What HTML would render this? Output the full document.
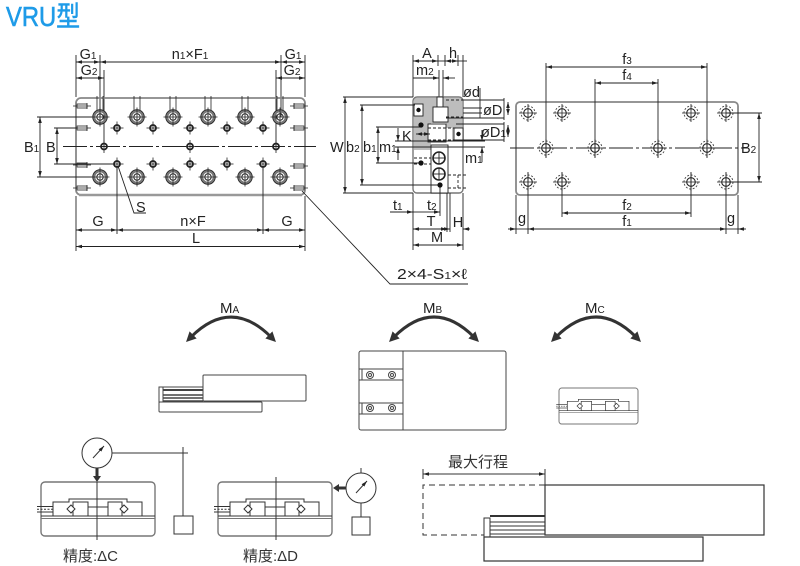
<!DOCTYPE html>
<html><head><meta charset="utf-8"><style>
html,body{margin:0;padding:0;background:#fff}
svg{display:block}
text{font-family:"Liberation Sans","Noto Sans CJK JP",sans-serif;fill:#222;stroke:none}
</style></head><body>
<svg width="800" height="566" viewBox="0 0 800 566" xmlns="http://www.w3.org/2000/svg">
<defs>
<marker id="a" viewBox="0 0 10 6" refX="10" refY="3" markerWidth="6" markerHeight="3.6" orient="auto-start-reverse" markerUnits="userSpaceOnUse"><path d="M0,0L10,3L0,6z" fill="#222"/></marker>
<marker id="b" viewBox="0 0 10 10" refX="3" refY="5" markerWidth="10" markerHeight="10" orient="auto-start-reverse" markerUnits="userSpaceOnUse"><path d="M0,0L10,5L0,10z" fill="#333"/></marker>
<g id="LH" fill="none"><circle r="6" stroke="#777" stroke-width="2.6"/><circle r="7.3" stroke="#222" stroke-width="0.8"/><circle r="3.2" stroke="#222" stroke-width="1"/><line x1="-9.5" y1="0" x2="9.5" y2="0" stroke="#222" stroke-width="0.8"/><line x1="0" y1="-9.5" x2="0" y2="9.5" stroke="#222" stroke-width="0.8"/></g>
<g id="SH" fill="none" stroke="#222"><circle r="3" stroke-width="1.8"/><line x1="-6.5" y1="0" x2="6.5" y2="0" stroke-width="0.8"/><line x1="0" y1="-6.5" x2="0" y2="6.5" stroke-width="0.8"/></g>
<g id="RH" fill="none"><circle r="7" stroke="#444" stroke-width="0.9" stroke-dasharray="2,1.6"/><circle r="4.3" stroke="#222" stroke-width="1.1"/><line x1="-9" y1="0" x2="9" y2="0" stroke="#222" stroke-width="0.8"/><line x1="0" y1="-9" x2="0" y2="9" stroke="#222" stroke-width="0.8"/></g>
<g id="TL" stroke="#222" stroke-width="0.8" fill="none"><rect x="1" y="-2" width="10" height="4"/><line x1="-3" y1="0" x2="15" y2="0"/><line x1="11" y1="-3" x2="11" y2="3"/></g>
<g id="TV" stroke="#222" stroke-width="0.8"><line x1="-3" y1="96" x2="-3" y2="110"/><line x1="3" y1="96" x2="3" y2="110"/></g>
<g id="BD" fill="none" stroke="#333" stroke-width="1">
<rect x="0" y="0" width="114" height="54" rx="4" stroke="#777" stroke-width="1.4"/>
<line x1="0" y1="34" x2="114" y2="34"/>
<line x1="0" y1="36.5" x2="114" y2="36.5" stroke="#777"/>
<path d="M12,34 V20 H28 V17 H86 V20 H101 V34"/>
<rect x="32" y="20" width="15" height="14"/>
<rect x="67" y="20" width="14" height="14"/>
<line x1="47" y1="25" x2="67" y2="25"/>
<path d="M30,23 L34,27 L30,31 L26,27 Z" fill="#fff"/>
<path d="M83,23 L87,27 L83,31 L79,27 Z" fill="#fff"/>
<line x1="-4" y1="24.5" x2="12" y2="24.5"/>
<line x1="-4" y1="30" x2="12" y2="30"/>
<line x1="-4" y1="27.3" x2="12" y2="27.3" stroke-dasharray="2,1.5"/>
</g>
</defs>

<!-- Title -->
<text x="6" y="26" font-size="28" textLength="74" lengthAdjust="spacingAndGlyphs" style="fill:#1e9be8;stroke:#1e9be8;stroke-width:0.6">VRU型</text>

<!-- ================= LEFT VIEW ================= -->
<g stroke="#222" stroke-width="0.9" fill="none">
<line x1="76" y1="55" x2="76" y2="97"/><line x1="76" y1="196" x2="76" y2="251"/>
<line x1="305" y1="55" x2="305" y2="97"/><line x1="305" y1="196" x2="305" y2="251"/>
<line x1="100" y1="55" x2="100" y2="117"/><line x1="281" y1="55" x2="281" y2="117"/>
<line x1="104" y1="70" x2="104" y2="146"/><line x1="276" y1="70" x2="276" y2="146"/>
<line x1="76" y1="62" x2="100" y2="62" marker-start="url(#a)" marker-end="url(#a)"/>
<line x1="100" y1="62" x2="281" y2="62" marker-start="url(#a)" marker-end="url(#a)"/>
<line x1="281" y1="62" x2="305" y2="62" marker-start="url(#a)" marker-end="url(#a)"/>
<line x1="76" y1="78" x2="104" y2="78" marker-start="url(#a)" marker-end="url(#a)"/>
<line x1="276" y1="78" x2="305" y2="78" marker-start="url(#a)" marker-end="url(#a)"/>
<rect x="76" y="98" width="229" height="97" rx="5" stroke="#888" stroke-width="1.8"/>
<line x1="79" y1="195" x2="302" y2="195" stroke="#999" stroke-width="2.4"/>
<!-- B1 / B -->
<line x1="40" y1="117" x2="40" y2="177" marker-start="url(#a)" marker-end="url(#a)"/>
<line x1="37" y1="117" x2="92" y2="117"/><line x1="37" y1="177" x2="92" y2="177"/>
<line x1="57" y1="128" x2="57" y2="164" marker-start="url(#a)" marker-end="url(#a)"/>
<line x1="54" y1="128" x2="78" y2="128"/><line x1="54" y1="164" x2="114" y2="164"/>
<line x1="63" y1="146.5" x2="316" y2="146.5" stroke-dasharray="24,3,3,3"/>
<!-- bottom dims -->
<line x1="117" y1="166" x2="117" y2="234"/><line x1="263" y1="166" x2="263" y2="234"/>
<line x1="76" y1="230" x2="117" y2="230" marker-start="url(#a)" marker-end="url(#a)"/>
<line x1="117" y1="230" x2="263" y2="230" marker-start="url(#a)" marker-end="url(#a)"/>
<line x1="263" y1="230" x2="305" y2="230" marker-start="url(#a)" marker-end="url(#a)"/>
<line x1="76" y1="246.5" x2="305" y2="246.5" marker-start="url(#a)" marker-end="url(#a)"/>
<polyline points="118,166 134,213 146,213"/>
<polyline points="302,191 390,284 468,284"/>
</g>
<!-- holes -->
<g>
<use href="#TV" x="100"/><use href="#TV" x="137"/><use href="#TV" x="173"/><use href="#TV" x="208"/><use href="#TV" x="245"/><use href="#TV" x="280"/>
<use href="#LH" x="100" y="117"/><use href="#LH" x="137" y="117"/><use href="#LH" x="173" y="117"/><use href="#LH" x="208" y="117"/><use href="#LH" x="245" y="117"/><use href="#LH" x="280" y="117"/>
<use href="#LH" x="100" y="177"/><use href="#LH" x="137" y="177"/><use href="#LH" x="173" y="177"/><use href="#LH" x="208" y="177"/><use href="#LH" x="245" y="177"/><use href="#LH" x="280" y="177"/>
<use href="#SH" x="117" y="128"/><use href="#SH" x="153" y="128"/><use href="#SH" x="190" y="128"/><use href="#SH" x="227" y="128"/><use href="#SH" x="263" y="128"/>
<use href="#SH" x="117" y="164"/><use href="#SH" x="153" y="164"/><use href="#SH" x="190" y="164"/><use href="#SH" x="227" y="164"/><use href="#SH" x="263" y="164"/>
<use href="#SH" x="104" y="146.5"/><use href="#SH" x="190" y="146.5"/><use href="#SH" x="276" y="146.5"/>
<use href="#TL" x="76" y="106"/><use href="#TL" x="76" y="128"/><use href="#TL" x="76" y="165"/><use href="#TL" x="76" y="188"/>
<use href="#TL" transform="translate(305,106) scale(-1,1)"/><use href="#TL" transform="translate(305,128) scale(-1,1)"/><use href="#TL" transform="translate(305,166) scale(-1,1)"/><use href="#TL" transform="translate(305,188) scale(-1,1)"/>
</g>
<g font-size="14.5">
<text x="88" y="59" text-anchor="middle">G<tspan font-size="10">1</tspan></text>
<text x="190" y="59" text-anchor="middle">n<tspan font-size="10">1</tspan>×F<tspan font-size="10">1</tspan></text>
<text x="293" y="59" text-anchor="middle">G<tspan font-size="10">1</tspan></text>
<text x="89" y="75" text-anchor="middle">G<tspan font-size="10">2</tspan></text>
<text x="292" y="75" text-anchor="middle">G<tspan font-size="10">2</tspan></text>
<text x="24" y="152">B<tspan font-size="10">1</tspan></text>
<text x="46" y="152">B</text>
<text x="136" y="212">S</text>
<text x="98" y="226" text-anchor="middle">G</text>
<text x="193" y="226" text-anchor="middle">n×F</text>
<text x="287" y="226" text-anchor="middle">G</text>
<text x="196" y="243" text-anchor="middle">L</text>
<text x="397" y="279" textLength="70" lengthAdjust="spacingAndGlyphs">2×4-S<tspan font-size="10">1</tspan>×ℓ</text>
</g>

<!-- ================= SIDE VIEW ================= -->
<g stroke="#222" stroke-width="0.9" fill="none">
<line x1="413" y1="55" x2="413" y2="97"/><line x1="413" y1="193" x2="413" y2="250"/>
<line x1="438" y1="55" x2="438" y2="66"/><line x1="445" y1="55" x2="445" y2="66"/>
<line x1="458" y1="55" x2="458" y2="66"/>
<line x1="463" y1="55" x2="463" y2="97"/><line x1="463" y1="193" x2="463" y2="250"/>
<line x1="413" y1="61" x2="438" y2="61" marker-start="url(#a)" marker-end="url(#a)"/>
<line x1="438" y1="61" x2="445" y2="61"/>
<line x1="445" y1="61" x2="458" y2="61" marker-start="url(#a)" marker-end="url(#a)"/>
<line x1="458" y1="61" x2="467" y2="61"/>
<line x1="439" y1="70" x2="439" y2="108"/><line x1="443" y1="70" x2="443" y2="108"/>
<line x1="413" y1="78" x2="439" y2="78" marker-end="url(#a)"/>
<line x1="455" y1="78" x2="443" y2="78" marker-end="url(#a)"/>
<!-- body -->
<path d="M414,98 H462 V141 H452 V128 H446 V123 H431 V150 H414 Z" fill="#bdbdbd" stroke="none"/>
<rect x="413" y="97" width="50" height="96" rx="4" stroke="#777" stroke-width="1.4"/>
<rect x="437" y="97" width="6" height="10" fill="#fff"/>
<rect x="433" y="107" width="15" height="15" fill="#fff"/>
<rect x="414" y="104" width="9" height="12" fill="#fff"/>
<rect x="454" y="128" width="9" height="12" fill="#fff"/>
<rect x="428" y="124" width="18" height="18" fill="#fff"/>
<line x1="428" y1="128" x2="456" y2="128" stroke-dasharray="3,2"/>
<line x1="428" y1="140" x2="456" y2="140" stroke-dasharray="3,2"/>
<line x1="446" y1="100" x2="463" y2="100" stroke-dasharray="3,2"/>
<line x1="446" y1="117" x2="463" y2="117" stroke-dasharray="3,2"/>
<line x1="416" y1="134" x2="430" y2="134" marker-start="url(#a)" marker-end="url(#a)"/>
<rect x="431" y="145" width="17" height="48" fill="#fff"/>
<circle cx="439" cy="158" r="6" stroke-width="1.6" fill="#fff"/><line x1="433" y1="158" x2="445" y2="158"/><line x1="439" y1="152" x2="439" y2="164"/>
<circle cx="439" cy="174" r="6" stroke-width="1.6" fill="#fff"/><line x1="433" y1="174" x2="445" y2="174"/><line x1="439" y1="168" x2="439" y2="180"/>
<line x1="414" y1="158" x2="431" y2="158" stroke-dasharray="3,2"/>
<line x1="414" y1="164" x2="431" y2="164" stroke-dasharray="3,2"/>
<line x1="448" y1="175" x2="466" y2="175" stroke-dasharray="3,2"/>
<line x1="448" y1="188" x2="466" y2="188" stroke-dasharray="3,2"/>
<line x1="458" y1="175" x2="458" y2="188" stroke-dasharray="3,2"/>
<!-- left dims -->
<line x1="345" y1="97" x2="345" y2="193" marker-start="url(#a)" marker-end="url(#a)"/>
<line x1="343" y1="97" x2="413" y2="97"/><line x1="343" y1="193" x2="413" y2="193"/>
<line x1="362" y1="105" x2="362" y2="185" marker-start="url(#a)" marker-end="url(#a)"/>
<line x1="360" y1="105" x2="415" y2="105"/><line x1="360" y1="185" x2="440" y2="185"/>
<line x1="378" y1="127" x2="378" y2="163" marker-start="url(#a)" marker-end="url(#a)"/>
<line x1="376" y1="127" x2="421" y2="127"/><line x1="376" y1="163" x2="421" y2="163"/>
<line x1="398" y1="128" x2="398" y2="141" marker-end="url(#a)"/>
<line x1="398" y1="160" x2="398" y2="147" marker-end="url(#a)"/>
<line x1="395" y1="141" x2="485" y2="141"/><line x1="395" y1="147" x2="485" y2="147"/>
<!-- right dims -->
<line x1="480" y1="88" x2="480" y2="118"/>
<line x1="463" y1="100" x2="504" y2="100"/><line x1="463" y1="108" x2="482" y2="108"/>
<line x1="463" y1="113" x2="482" y2="113"/><line x1="446" y1="118" x2="504" y2="118"/>
<line x1="456" y1="124" x2="504" y2="124"/><line x1="456" y1="140" x2="504" y2="140"/>
<line x1="504" y1="98" x2="504" y2="120"/><line x1="504" y1="122" x2="504" y2="142"/>
<line x1="508" y1="102" x2="508" y2="115" marker-start="url(#a)" marker-end="url(#a)"/>
<line x1="508" y1="125" x2="508" y2="137" marker-start="url(#a)" marker-end="url(#a)"/>
<line x1="482" y1="130" x2="482" y2="141" marker-end="url(#a)"/>
<line x1="482" y1="162" x2="482" y2="147" marker-end="url(#a)"/>
<!-- bottom dims -->
<line x1="440" y1="185" x2="440" y2="216"/>
<line x1="447" y1="193" x2="447" y2="232"/><line x1="450" y1="193" x2="450" y2="232"/>
<line x1="390" y1="212" x2="413" y2="212" marker-end="url(#a)"/>
<line x1="413" y1="212" x2="426" y2="212"/>
<line x1="426" y1="212" x2="440" y2="212" marker-end="url(#a)"/>
<line x1="413" y1="229" x2="447" y2="229" marker-start="url(#a)" marker-end="url(#a)"/>
<line x1="470" y1="229" x2="463" y2="229" marker-end="url(#a)"/>
<line x1="443" y1="229" x2="450" y2="229" marker-end="url(#a)"/>
<line x1="413" y1="245" x2="463" y2="245" marker-start="url(#a)" marker-end="url(#a)"/>
</g>
<g fill="#111">
<circle cx="418.5" cy="110" r="2.2"/><circle cx="421" cy="125" r="2.6"/><circle cx="421" cy="163" r="2.6"/><circle cx="440" cy="185" r="2.6"/><circle cx="458.5" cy="134" r="2.2"/>
</g>
<g font-size="14.5">
<text x="427" y="58" text-anchor="middle">A</text>
<text x="453" y="58" text-anchor="middle">h</text>
<text x="416" y="75">m<tspan font-size="10">2</tspan></text>
<text x="330" y="152">W</text>
<text x="346" y="152">b<tspan font-size="10">2</tspan></text>
<text x="363" y="152">b<tspan font-size="10">1</tspan></text>
<text x="379" y="152">m<tspan font-size="10">1</tspan></text>
<text x="402" y="141">K</text>
<text x="463" y="97">ød</text>
<text x="483" y="115">øD</text>
<text x="481" y="137">øD<tspan font-size="10">1</tspan></text>
<text x="465" y="163">m<tspan font-size="10">1</tspan></text>
<text x="393" y="210">t<tspan font-size="10">1</tspan></text>
<text x="427" y="210">t<tspan font-size="10">2</tspan></text>
<text x="431" y="226" text-anchor="middle">T</text>
<text x="458" y="227" text-anchor="middle">H</text>
<text x="437" y="242" text-anchor="middle">M</text>
</g>

<!-- ================= RIGHT VIEW ================= -->
<g stroke="#222" stroke-width="0.9" fill="none">
<rect x="516" y="102" width="222" height="93" rx="4" stroke="#888" stroke-width="1.8"/>
<line x1="510" y1="148" x2="748" y2="148" stroke-dasharray="24,3,3,3"/>
<line x1="546" y1="63" x2="546" y2="158"/><line x1="707" y1="63" x2="707" y2="158"/>
<line x1="546" y1="67" x2="707" y2="67" marker-start="url(#a)" marker-end="url(#a)"/>
<line x1="595" y1="79" x2="595" y2="158"/><line x1="658" y1="79" x2="658" y2="158"/>
<line x1="595" y1="83" x2="658" y2="83" marker-start="url(#a)" marker-end="url(#a)"/>
<line x1="562" y1="172" x2="562" y2="217"/><line x1="691" y1="172" x2="691" y2="217"/>
<line x1="562" y1="213" x2="691" y2="213" marker-start="url(#a)" marker-end="url(#a)"/>
<line x1="528" y1="172" x2="528" y2="234"/><line x1="726" y1="172" x2="726" y2="234"/>
<line x1="516" y1="195" x2="516" y2="234"/><line x1="738" y1="195" x2="738" y2="234"/>
<line x1="508" y1="229" x2="516" y2="229" marker-end="url(#a)"/>
<line x1="516" y1="229" x2="528" y2="229"/>
<line x1="528" y1="229" x2="726" y2="229" marker-start="url(#a)" marker-end="url(#a)"/>
<line x1="726" y1="229" x2="738" y2="229"/>
<line x1="746" y1="229" x2="738" y2="229" marker-end="url(#a)"/>
<line x1="759" y1="113" x2="759" y2="182" marker-start="url(#a)" marker-end="url(#a)"/>
<line x1="726" y1="113" x2="762" y2="113"/><line x1="726" y1="182" x2="762" y2="182"/>
</g>
<g>
<use href="#RH" x="528" y="113"/><use href="#RH" x="562" y="113"/><use href="#RH" x="691" y="113"/><use href="#RH" x="726" y="113"/>
<use href="#RH" x="546" y="148"/><use href="#RH" x="595" y="148"/><use href="#RH" x="658" y="148"/><use href="#RH" x="707" y="148"/>
<use href="#RH" x="528" y="182"/><use href="#RH" x="562" y="182"/><use href="#RH" x="691" y="182"/><use href="#RH" x="726" y="182"/>
</g>
<g font-size="14.5">
<text x="627" y="64" text-anchor="middle">f<tspan font-size="10">3</tspan></text>
<text x="627" y="80" text-anchor="middle">f<tspan font-size="10">4</tspan></text>
<text x="627" y="210" text-anchor="middle">f<tspan font-size="10">2</tspan></text>
<text x="627" y="226" text-anchor="middle">f<tspan font-size="10">1</tspan></text>
<text x="522" y="223" text-anchor="middle">g</text>
<text x="731" y="223" text-anchor="middle">g</text>
<text x="741" y="153">B<tspan font-size="10">2</tspan></text>
</g>

<!-- ================= MOMENTS ================= -->
<g stroke="#333" stroke-width="3" fill="none">
<path d="M191,337 Q231,297 271,337" marker-start="url(#b)" marker-end="url(#b)"/>
<path d="M394,337 Q434,297 474,337" marker-start="url(#b)" marker-end="url(#b)"/>
<path d="M556,337 Q596,297 636,337" marker-start="url(#b)" marker-end="url(#b)"/>
</g>
<g>
<text x="220" y="313" font-size="15">M<tspan font-size="10">A</tspan></text>
<text x="423" y="313" font-size="15">M<tspan font-size="10">B</tspan></text>
<text x="585" y="313" font-size="15">M<tspan font-size="10">C</tspan></text>
</g>
<!-- MA object -->
<g stroke="#444" stroke-width="1" fill="none">
<rect x="203" y="375" width="103" height="26" rx="1"/>
<rect x="159" y="402" width="103" height="10" rx="1"/>
<rect x="159" y="387" width="4" height="15"/>
<line x1="163" y1="387" x2="203" y2="387"/>
<line x1="163" y1="390" x2="203" y2="390" stroke-width="2"/>
<line x1="163" y1="395" x2="203" y2="395" stroke-width="1.4"/>
<line x1="163" y1="398" x2="203" y2="398" stroke-width="1.4"/>
<line x1="163" y1="401" x2="203" y2="401" stroke-width="1.4"/>
</g>
<!-- MB object -->
<g stroke="#444" stroke-width="1" fill="none">
<rect x="359" y="351" width="147" height="79" rx="2"/>
<line x1="403" y1="351" x2="403" y2="430"/>
<line x1="359" y1="369" x2="403" y2="369"/><line x1="359" y1="380" x2="403" y2="380"/>
<line x1="359" y1="403" x2="403" y2="403"/><line x1="359" y1="414" x2="403" y2="414"/>
<line x1="362" y1="369" x2="362" y2="380"/><line x1="362" y1="403" x2="362" y2="414"/>
<circle cx="370" cy="375" r="3.5"/><circle cx="370" cy="375" r="1.5"/>
<circle cx="392" cy="375" r="3.5"/><circle cx="392" cy="375" r="1.5"/>
<circle cx="370" cy="408" r="3.5"/><circle cx="370" cy="408" r="1.5"/>
<circle cx="392" cy="408" r="3.5"/><circle cx="392" cy="408" r="1.5"/>
</g>
<!-- MC object -->
<use href="#BD" transform="translate(559,388) scale(0.693,0.667)"/>

<!-- ================= BOTTOM ROW ================= -->
<use href="#BD" transform="translate(41,482)"/>
<use href="#BD" transform="translate(218,482)"/>
<g stroke="#333" stroke-width="1" fill="none">
<!-- delta C -->
<circle cx="97" cy="453" r="15" fill="#fff"/>
<line x1="93" y1="458" x2="104" y2="446" marker-end="url(#a)"/>
<line x1="97" y1="468" x2="97" y2="477" stroke-width="3"/>
<path d="M93,476 L101,476 L97,482 Z" fill="#333" stroke="none"/>
<line x1="97" y1="482" x2="97" y2="540"/>
<line x1="112" y1="453" x2="188" y2="453"/>
<line x1="183" y1="447" x2="183" y2="516"/>
<rect x="174" y="516" width="19" height="18"/>
<!-- delta D -->
<line x1="276" y1="477" x2="276" y2="540"/>
<circle cx="361" cy="488" r="15" fill="#fff"/>
<line x1="356" y1="493" x2="367" y2="481" marker-end="url(#a)"/>
<line x1="346" y1="488" x2="338" y2="488" stroke-width="3"/>
<path d="M339,484 L339,492 L333,488 Z" fill="#333" stroke="none"/>
<line x1="361" y1="468" x2="361" y2="473"/>
<line x1="361" y1="503" x2="361" y2="517"/>
<rect x="352" y="517" width="18" height="18"/>
<!-- stroke diagram -->
<line x1="423" y1="474" x2="545" y2="474" marker-start="url(#a)" marker-end="url(#a)"/>
<line x1="423" y1="469" x2="423" y2="479"/><line x1="545" y1="469" x2="545" y2="485"/>
<path d="M545,485 H423 V535 H484" stroke-dasharray="6,4"/>
<rect x="545" y="485" width="219" height="50" stroke-width="1.2"/>
<rect x="484" y="537" width="219" height="24" stroke-width="1.2"/>
<rect x="484" y="518" width="6" height="19"/>
<line x1="490" y1="516" x2="545" y2="516" stroke-width="2"/>
<line x1="490" y1="522" x2="545" y2="522"/>
<line x1="490" y1="526" x2="545" y2="526"/>
<line x1="490" y1="530" x2="545" y2="530"/>
<line x1="490" y1="534" x2="545" y2="534"/>
<line x1="545" y1="535" x2="703" y2="535"/>
</g>
<g font-size="15">
<text x="63" y="561" style="fill:#333">精度:ΔC</text>
<text x="243" y="561" style="fill:#333">精度:ΔD</text>
<text x="448" y="467" style="fill:#333">最大行程</text>
</g>
</svg>
</body></html>
